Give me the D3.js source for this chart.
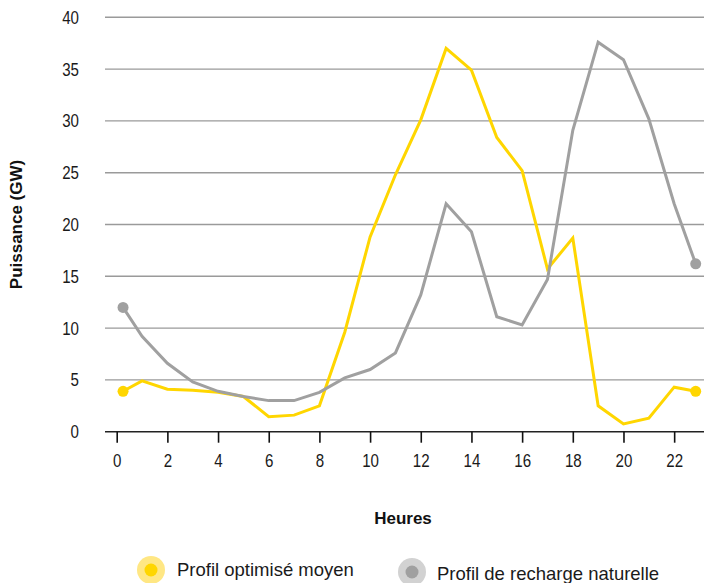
<!DOCTYPE html>
<html>
<head>
<meta charset="utf-8">
<script src="https://cdn.jsdelivr.net/npm/d3@7"></script>
<style>
  html, body { margin: 0; padding: 0; background: #fff; }
  svg { display: block; }
  .tick-label { font-family: "Liberation Sans", Arial, sans-serif; font-size: 18px; fill: #1a1a1a; }
  .axis-title { font-family: "Liberation Sans", Arial, sans-serif; font-size: 17px; font-weight: bold; fill: #111; }
  .legend-text { font-family: "Liberation Sans", Arial, sans-serif; font-size: 18.5px; fill: #1a1a1a; }
</style>
</head>
<body>
<script>
// ---- Data ----
const hours = [0.25, 1, 2, 3, 4, 5, 6, 7, 8, 9, 10, 11, 12, 13, 14, 15, 16, 17, 18, 19, 20, 21, 22, 22.85];
const optimise = [3.9, 4.9, 4.1, 4.0, 3.8, 3.4, 1.45, 1.6, 2.5, 9.6, 18.8, 24.8, 30.1, 37.0, 34.9, 28.4, 25.2, 15.7, 18.7, 2.5, 0.75, 1.3, 4.3, 3.9];
const naturelle = [12.0, 9.2, 6.6, 4.8, 3.9, 3.4, 3.0, 3.0, 3.8, 5.2, 6.0, 7.6, 13.2, 22.0, 19.3, 11.1, 10.3, 14.7, 29.1, 37.6, 35.9, 30.2, 22.0, 16.2];
const xTicks = [0, 2, 4, 6, 8, 10, 12, 14, 16, 18, 20, 22];
const yTicks = [0, 5, 10, 15, 20, 25, 30, 35, 40];
const seriesNames = ["Profil optimisé moyen", "Profil de recharge naturelle"];
const xTitle = "Heures";
const yTitle = "Puissance (GW)";

const W = 704, H = 583;
const colors = ["#FFD600", "#A0A0A0"];
const lightColors = ["#FFE784", "#D2D2D2"];
const condense = "scale(0.84,1)";

const svg = d3.select("body").append("svg").attr("width", W).attr("height", H);

const x = d3.scaleLinear().domain([0, 23]).range([116.7, 699.5]);
const y = d3.scaleLinear().domain([0, 40]).range([431.7, 17.3]);
const gridLeft = 105, gridRight = 704;

// gridlines
svg.append("g").selectAll("line").data(yTicks.filter(d => d > 0)).join("line")
  .attr("x1", gridLeft).attr("x2", gridRight)
  .attr("y1", d => y(d)).attr("y2", d => y(d))
  .attr("stroke", "#9a9a9a").attr("stroke-width", 1.4);

// y tick labels
svg.append("g").selectAll("text").data(yTicks).join("text")
  .attr("class", "tick-label")
  .attr("transform", d => `translate(79,${y(d)}) ${condense}`)
  .attr("dy", "0.36em")
  .attr("text-anchor", "end").text(d => d);

// x axis
const xAxis = d3.axisBottom(x).tickValues(xTicks).tickSize(11).tickPadding(12).tickSizeOuter(0);
const gx = svg.append("g").attr("transform", `translate(0,${y(0)})`).call(xAxis);
gx.select(".domain").attr("d", `M${gridLeft},0H${gridRight}`).attr("stroke", "#222").attr("stroke-width", 1.6);
gx.selectAll(".tick line").attr("stroke", "#111").attr("stroke-width", 1.6);
gx.selectAll(".tick text").attr("class", "tick-label").attr("fill", "#1a1a1a")
  .style("font-size", "18px").attr("transform", condense);

// lines
const seriesData = [optimise, naturelle];
const line = d3.line().x((d, i) => x(hours[i])).y(d => y(d));
[0, 1].forEach(s => {
  const vals = seriesData[s];
  svg.append("path").datum(vals)
    .attr("d", line)
    .attr("fill", "none").attr("stroke", colors[s]).attr("stroke-width", 3)
    .attr("stroke-linejoin", "miter").attr("stroke-linecap", "butt");
  const ends = [0, vals.length - 1];
  svg.append("g").selectAll("circle").data(ends).join("circle")
    .attr("cx", i => x(hours[i])).attr("cy", i => y(vals[i])).attr("r", 5.5)
    .attr("fill", colors[s]);
});

// axis titles
svg.append("text").attr("class", "axis-title")
  .attr("transform", `translate(22,${(y(0) + y(40)) / 2}) rotate(-90)`)
  .attr("text-anchor", "middle").text(yTitle);
svg.append("text").attr("class", "axis-title")
  .attr("x", 403).attr("y", 524).attr("text-anchor", "middle").text(xTitle);

// legend
const legendItems = [
  { cx: 151, cy: 570, tx: 177, ty: 576 },
  { cx: 412, cy: 572, tx: 437, ty: 580 }
];
legendItems.forEach((p, i) => {
  svg.append("circle").attr("cx", p.cx).attr("cy", p.cy).attr("r", 14).attr("fill", lightColors[i]);
  svg.append("circle").attr("cx", p.cx).attr("cy", p.cy).attr("r", 6.5).attr("fill", colors[i]);
  svg.append("text").attr("class", "legend-text").attr("x", p.tx).attr("y", p.ty).text(seriesNames[i]);
});
</script>
</body>
</html>
